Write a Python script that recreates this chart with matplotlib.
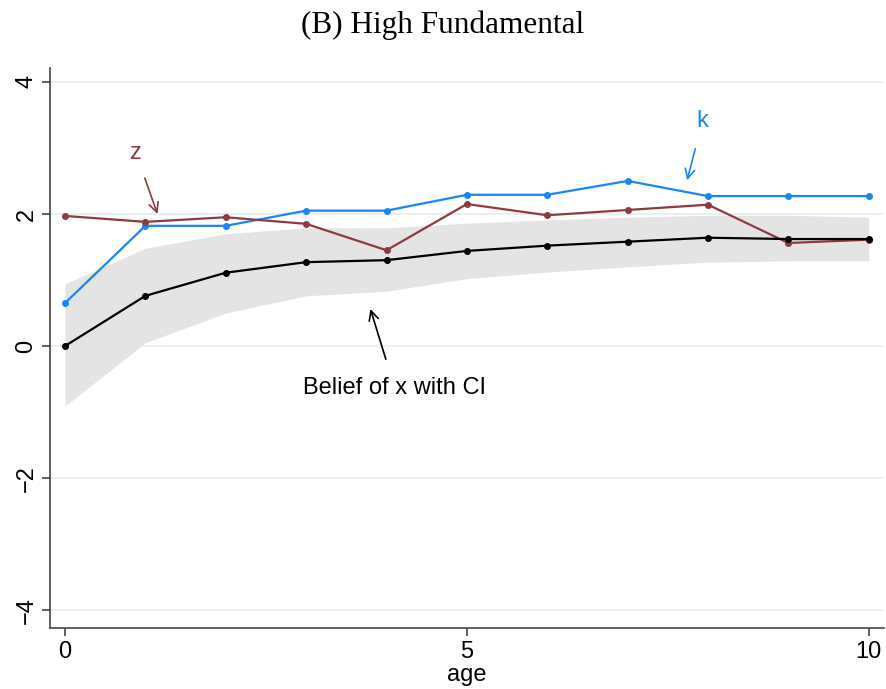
import matplotlib.pyplot as plt

# Datos por edad
edad = [0, 1, 2, 3, 4, 5, 6, 7, 8, 9, 10]
creencia_x = [0.00, 0.76, 1.11, 1.27, 1.30, 1.44, 1.52, 1.58, 1.64, 1.62, 1.62]
ic_sup = [0.94, 1.48, 1.70, 1.79, 1.79, 1.86, 1.91, 1.95, 1.98, 1.98, 1.95]
ic_inf = [-0.91, 0.05, 0.50, 0.76, 0.83, 1.02, 1.12, 1.20, 1.27, 1.29, 1.29]
serie_k = [0.65, 1.82, 1.82, 2.05, 2.05, 2.29, 2.29, 2.50, 2.27, 2.27, 2.27]
serie_z = [1.97, 1.88, 1.95, 1.85, 1.45, 2.15, 1.98, 2.06, 2.14, 1.56, 1.61]

azul = "#1a86f0"
rojo = "#8f3a40"
sans = "Liberation Sans"

fig = plt.figure(figsize=(8.86, 6.89), dpi=100)
ax = fig.add_axes([50 / 886, 1 - 628 / 689, 834 / 886, 560 / 689])

# Banda del intervalo de confianza
ax.fill_between(edad, ic_inf, ic_sup, color="#e4e4e4", linewidth=0, zorder=1)

ax.plot(edad, creencia_x, color="black", marker="o", markersize=4, linewidth=1.6, zorder=4)
ax.plot(edad, serie_k, color=azul, marker="o", markersize=4, linewidth=1.6, zorder=3)
ax.plot(edad, serie_z, color=rojo, marker="o", markersize=4, linewidth=1.6, zorder=3)

ax.set_xlim(-0.187, 10.19)
ax.set_ylim(-4.27, 4.21)
ax.set_xticks([0, 5, 10])
ax.set_yticks([-4, -2, 0, 2, 4])
ax.set_yticklabels(["\u22124", "\u22122", "0", "2", "4"], rotation=90, va="center")
for lab in ax.get_xticklabels() + ax.get_yticklabels():
    lab.set_fontfamily(sans)
    lab.set_fontsize(17)
ax.tick_params(axis="both", direction="out", length=6, width=1.2, color="#444444", pad=3)

ax.grid(axis="y", color="#e6eff1", linewidth=1.3, zorder=0)
ax.set_axisbelow(True)
for lado in ["top", "right"]:
    ax.spines[lado].set_visible(False)
for lado in ["left", "bottom"]:
    ax.spines[lado].set_color("#444444")
    ax.spines[lado].set_linewidth(1.2)

ax.set_xlabel("age", fontfamily=sans, fontsize=17, labelpad=1)
# Título centrado en la figura
fig.text(0.5, 1 - 25 / 689, "(B) High Fundamental", fontfamily="Liberation Serif",
         fontsize=22.5, ha="center", va="center")

# Etiquetas con flechas
ax.annotate("z", xy=(1.15, 2.0), xytext=(0.88, 2.93), color=rojo, fontsize=17,
            fontfamily=sans, ha="center", va="center",
            arrowprops=dict(arrowstyle="->", color=rojo, lw=1.2, shrinkA=9, shrinkB=0))
ax.annotate("k", xy=(7.74, 2.51), xytext=(7.93, 3.4), color=azul, fontsize=17,
            fontfamily=sans, ha="center", va="center",
            arrowprops=dict(arrowstyle="->", color=azul, lw=1.2, shrinkA=10, shrinkB=0))
ax.annotate("Belief of x with CI", xy=(3.8, 0.56), xytext=(4.1, -0.63), color="black",
            fontsize=17, fontfamily=sans, ha="center", va="center",
            arrowprops=dict(arrowstyle="->", color="black", lw=1.2, shrinkA=11, shrinkB=0))

fig.savefig("out.png", dpi=100)
